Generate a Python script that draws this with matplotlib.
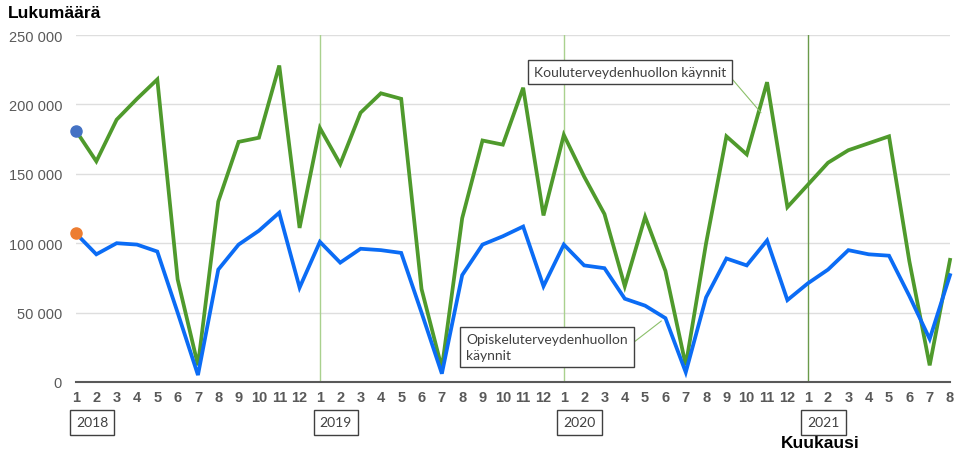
import matplotlib
matplotlib.use("Agg")
import matplotlib.pyplot as plt
import numpy as np

plt.rcParams['font.family'] = ['Liberation Sans', 'DejaVu Sans']

years = ["2018", "2019", "2020", "2021"]
months = [str(m) for m in range(1, 13)] * 3 + [str(m) for m in range(1, 9)]

koulu = [181, 159, 189, 204, 218, 74, 12, 130, 173, 176, 228, 111,
         183, 157, 194, 208, 204, 67, 10, 118, 174, 171, 212, 120,
         178, 148, 121, 69, 119, 80, 12, 100, 177, 164, 216, 126,
         142, 158, 167, 172, 177, 87, 12, 88]
koulu = [v * 1000 for v in koulu]

opiskelu = [107, 92, 100, 99, 94, 50, 5, 81, 99, 109, 122, 68,
            101, 86, 96, 95, 93, 50, 6, 77, 99, 105, 112, 69,
            99, 84, 82, 60, 55, 46, 7, 61, 89, 84, 102, 59,
            71, 81, 95, 92, 91, 62, 31, 77]
opiskelu = [v * 1000 for v in opiskelu]

label_koulu = "Kouluterveydenhuollon käynnit"
label_opisk = "Opiskeluterveydenhuollon\nkäynnit"
yticks = [0, 50000, 100000, 150000, 200000, 250000]

green = "#4f9a2c"
blue = "#0b6cf5"
gray = "#595959"

fig = plt.figure(figsize=(9.56, 4.56), dpi=100)
ax = fig.add_axes([76/956, 1-383/456, 874/956, 347/456])
x = np.arange(len(months))

for yv in yticks[1:]:
    ax.axhline(yv, color="#dedede", lw=1, zorder=0)

# year separators
year_idx = [i for i in range(len(months)) if months[i] == "1"]
sep_colors = ["#a9d18e", "#a9d18e", "#6a9a4a"]
for i, c in zip(year_idx[1:], sep_colors):
    ax.axvline(i, color=c, lw=1, zorder=1)

ax.plot(x, koulu, color=green, lw=2.7, zorder=3, solid_joinstyle='miter', clip_on=False)
ax.plot(x, opiskelu, color=blue, lw=2.7, zorder=3, solid_joinstyle='miter', clip_on=False)
ax.plot([x[0]], [koulu[0]], 'o', color="#4472c4", ms=8, zorder=4, clip_on=False)
ax.plot([x[0]], [opiskelu[0]], 'o', color="#ed7d31", ms=8, zorder=4, clip_on=False)

ax.set_xlim(0, len(months) - 1)
ax.set_ylim(0, 250000)
for s in ["top", "right", "left"]:
    ax.spines[s].set_visible(False)
ax.spines["bottom"].set_color("#595959")
ax.spines["bottom"].set_linewidth(1.5)

ax.set_yticks(yticks)
ax.set_yticklabels([f"{v:,}".replace(",", " ") for v in yticks], color=gray, fontsize=10.5)
ax.set_xticks(x)
ax.set_xticklabels(months, color=gray, fontsize=10.5, fontweight="bold")
ax.tick_params(axis="both", length=0, pad=10)
ax.tick_params(axis="x", pad=6)

# year boxes
for i, yr in zip(year_idx, years):
    ax.annotate(yr, xy=(i, 0), xycoords=("data", "axes fraction"),
                xytext=(11.5, -29), textcoords="offset points",
                ha="center", va="center", fontsize=10, color="#404040",
                family=["Lato", "DejaVu Sans"],
                bbox=dict(boxstyle="square,pad=0.45", fc="white", ec="#404040", lw=1))

fig.text(8/956, 1-14/456, "Lukumäärä", fontsize=12.5, fontweight="bold", va="center", ha="left")
fig.text(820/956, 1-444/456, "Kuukausi", fontsize=12.5, fontweight="bold", va="center", ha="center")

# annotations
i_k = 34
ax.annotate(label_koulu, xy=(i_k - 0.3, koulu[i_k] - 22000), xytext=(630/956, 1-73/456),
            textcoords="figure fraction", ha="center", va="center",
            fontsize=10, color="#404040", family=["Lato", "DejaVu Sans"],
            bbox=dict(boxstyle="square,pad=0.45", fc="white", ec="#404040", lw=1),
            arrowprops=dict(arrowstyle="-", color="#8cc06a", lw=0.8, shrinkA=0, shrinkB=0,
                            relpos=(1, 0.5)))
i_o = 29
ax.annotate(label_opisk, xy=(i_o - 0.2, opiskelu[i_o] - 2000), xytext=(466/956, 1-348/456),
            textcoords="figure fraction", ha="left", va="center",
            fontsize=10, color="#404040", family=["Lato", "DejaVu Sans"], linespacing=1.4,
            bbox=dict(boxstyle="square,pad=0.45", fc="white", ec="#404040", lw=1),
            arrowprops=dict(arrowstyle="-", color="#8cc06a", lw=0.8, shrinkA=0, shrinkB=0,
                            relpos=(1, 0.5)))

fig.savefig("out.png", dpi=100)
